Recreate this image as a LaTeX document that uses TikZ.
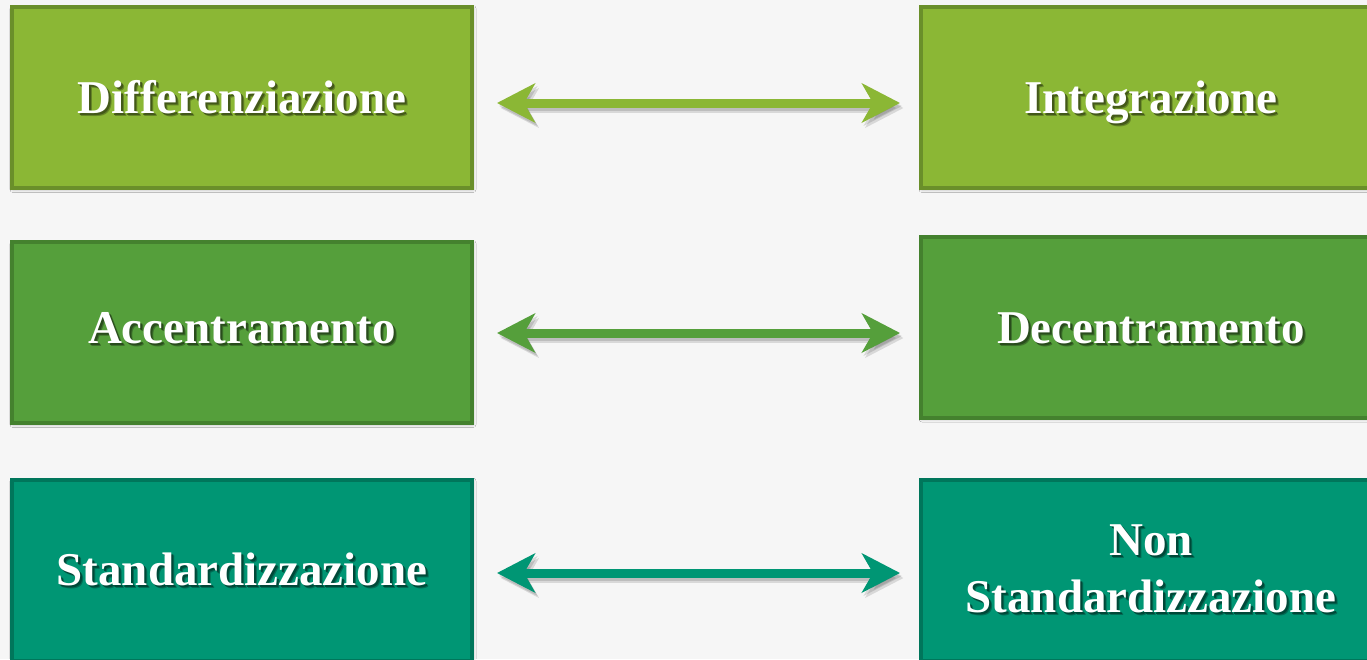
\documentclass[tikz,border=0pt]{standalone}
\usepackage{fontspec}
\setmainfont{Liberation Serif}
\usetikzlibrary{arrows.meta,shadows.blur}

\definecolor{limefill}{RGB}{139,183,53}
\definecolor{limeline}{RGB}{106,143,42}
\definecolor{leaffill}{RGB}{85,159,59}
\definecolor{leafline}{RGB}{68,129,46}
\definecolor{tealfill}{RGB}{0,150,116}
\definecolor{tealline}{RGB}{0,118,91}
\definecolor{paper}{RGB}{246,246,246}

% white word with a soft, dark drop shadow tinted by the box colour
\newcommand\shadowed[2]{%
  \makebox[0pt][l]{\kern3pt\raisebox{-3.5pt}{\textcolor{#1!72!black}{#2}}}%
  \makebox[0pt][l]{\kern2pt\raisebox{-2pt}{\textcolor{#1!48!black}{#2}}}%
  #2}

\tikzset{
  panel/.style={rectangle, line width=4pt, minimum width=460pt, minimum height=181pt,
    blur shadow={shadow xshift=1pt, shadow yshift=-1.5pt, shadow blur radius=3pt, shadow opacity=30}},
  word/.style={text=white, font=\fontsize{47}{57}\selectfont\bfseries, align=center,
    inner sep=0pt, anchor=base},
  twoway/.style={line width=9pt,
    {Stealth[length=38pt,width=39pt,inset=11pt]}-{Stealth[length=38pt,width=39pt,inset=11pt]}},
  twowayshade/.style={twoway, draw=black, opacity=0.12}
}

\begin{document}
\begin{tikzpicture}[x=1pt,y=-1pt]
  \useasboundingbox (0,0) rectangle (1367,659);
  \fill[paper] (0,0) rectangle (1367,659);

  % boxes
  \node[panel, fill=limefill, draw=limeline] (dif) at (242,97.5) {};
  \node[panel, fill=limefill, draw=limeline] (int) at (1151,97.5) {};
  \node[panel, fill=leaffill, draw=leafline] (acc) at (242,332.5) {};
  \node[panel, fill=leaffill, draw=leafline] (dec) at (1151,327) {};
  \node[panel, fill=tealfill, draw=tealline] (std) at (242,570) {};
  \node[panel, fill=tealfill, draw=tealline] (non) at (1151,570) {};

  % labels, placed by their (last) baseline
  \node[word] (dif-t) at ([yshift=-15.5pt]dif.center) {\shadowed{limefill}{Differenziazione}};
  \node[word] (int-t) at ([yshift=-15.5pt]int.center) {\shadowed{limefill}{Integrazione}};
  \node[word] (acc-t) at ([yshift=-10.5pt]acc.center) {\shadowed{leaffill}{Accentramento}};
  \node[word] (dec-t) at ([yshift=-16pt]dec.center) {\shadowed{leaffill}{Decentramento}};
  \node[word] (std-t) at ([yshift=-15pt]std.center) {\shadowed{tealfill}{Standardizzazione}};
  \node[word] (non-t) at ([yshift=-42pt]non.center)
    {\shadowed{tealfill}{Non}\\\shadowed{tealfill}{Standardizzazione}};

  % double arrows between the paired boxes, each with a soft shadow
  \foreach \a/\b/\c/\dy in {dif/int/lime/-5.5pt, acc/dec/leaf/-0.5pt, std/non/teal/-3pt}{
    \draw[twowayshade, shorten <=23pt, shorten >=19pt]
      ([xshift=2pt,yshift=\dy-3pt]\a.east) -- ([xshift=2pt,yshift=\dy-3pt]\a.east -| \b.west);
    \draw[twowayshade, shorten <=23pt, shorten >=19pt]
      ([xshift=3.5pt,yshift=\dy-5pt]\a.east) -- ([xshift=3.5pt,yshift=\dy-5pt]\a.east -| \b.west);
    \draw[twoway, draw=\c fill, shorten <=23pt, shorten >=19pt]
      ([yshift=\dy]\a.east) -- ([yshift=\dy]\a.east -| \b.west);
  }
\end{tikzpicture}
\end{document}
